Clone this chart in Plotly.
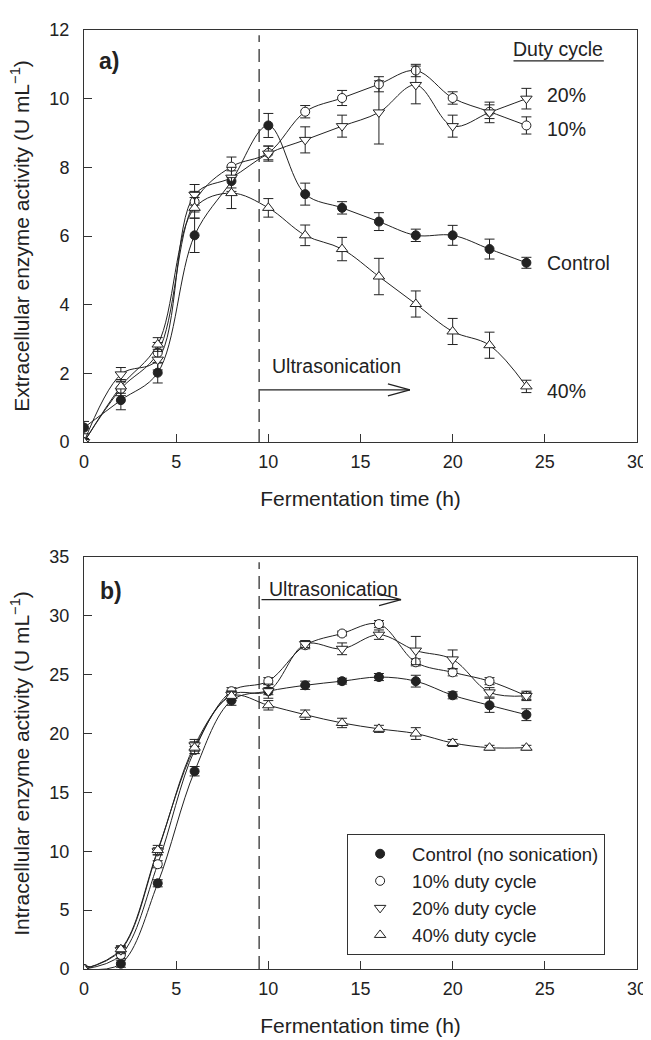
import plotly.graph_objects as go

# ---------------- data ----------------
time_h = [0, 2, 4, 6, 8, 10, 12, 14, 16, 18, 20, 22, 24]

# (a) Extracellular enzyme activity (U/mL)
ext_control = [0.42, 1.22, 2.02, 6.02, 7.6, 9.22, 7.22, 6.82, 6.42, 6.02, 6.02, 5.62, 5.22]
ext_control_err = [0.18, 0.28, 0.3, 0.5, 0.3, 0.35, 0.32, 0.18, 0.26, 0.18, 0.29, 0.29, 0.16]
ext_10 = [0.0, 1.55, 2.6, 7.0, 8.02, 8.42, 9.62, 10.02, 10.42, 10.82, 10.02, 9.62, 9.22]
ext_10_err = [0.1, 0.2, 0.3, 0.3, 0.28, 0.2, 0.18, 0.22, 0.22, 0.18, 0.18, 0.2, 0.25]
ext_20 = [0.0, 1.97, 2.4, 7.2, 7.7, 8.4, 8.8, 9.2, 9.6, 10.4, 9.2, 9.6, 10.0]
ext_20_err = [0.1, 0.2, 0.3, 0.3, 0.3, 0.22, 0.38, 0.32, 0.92, 0.55, 0.32, 0.3, 0.3]
ext_40 = [0.0, 1.62, 2.84, 6.82, 7.25, 6.82, 6.02, 5.62, 4.82, 4.02, 3.22, 2.82, 1.62]
ext_40_err = [0.1, 0.2, 0.2, 0.3, 0.45, 0.27, 0.3, 0.34, 0.53, 0.38, 0.38, 0.38, 0.18]

# (b) Intracellular enzyme activity (U/mL)
int_control = [0.0, 0.45, 7.28, 16.8, 22.8, 23.6, 24.1, 24.45, 24.8, 24.45, 23.25, 22.4, 21.6]
int_control_err = [0.1, 0.3, 0.3, 0.4, 0.4, 0.3, 0.35, 0.25, 0.3, 0.5, 0.3, 0.6, 0.5]
int_10 = [0.0, 1.2, 8.9, 18.6, 23.6, 24.45, 27.5, 28.5, 29.3, 26.05, 25.2, 24.45, 23.2]
int_10_err = [0.1, 0.3, 0.3, 0.3, 0.3, 0.3, 0.3, 0.2, 0.3, 0.3, 0.3, 0.3, 0.3]
int_20 = [0.0, 1.6, 10.0, 19.0, 23.3, 23.6, 27.6, 27.2, 28.4, 27.05, 26.3, 23.5, 23.2]
int_20_err = [0.1, 0.3, 0.3, 0.5, 0.3, 0.6, 0.3, 0.5, 0.4, 1.2, 0.8, 0.4, 0.4]
int_40 = [0.0, 1.68, 10.1, 18.8, 23.2, 22.4, 21.6, 20.9, 20.4, 20.0, 19.2, 18.8, 18.8]
int_40_err = [0.1, 0.3, 0.4, 0.5, 0.4, 0.4, 0.4, 0.4, 0.3, 0.5, 0.3, 0.2, 0.2]

series_names = ["Control (no sonication)", "10% duty cycle", "20% duty cycle", "40% duty cycle"]
side_labels_a = ["Control", "10%", "20%", "40%"]
side_label_y_a = [5.2, 9.12, 10.1, 1.5]
y_titles = ["Extracellular enzyme activity (U mL<sup>−1</sup>)",
            "Intracellular enzyme activity (U mL<sup>−1</sup>)"]
x_title = "Fermentation time (h)"
sonication_start = 9.5

# ---------------- styling ----------------
FONT = "Liberation Sans, Arial, sans-serif"
INK = "#222222"
AX = "#333333"
symbols = ["circle", "circle", "triangle-down", "triangle-up"]
msizes = [9, 9, 10, 10]

fig = go.Figure()


def add_panel(xref, yref, ys, errs, legend):
    # smooth connecting lines
    for y in ys:
        fig.add_trace(go.Scatter(
            x=time_h, y=y, mode="lines", xaxis=xref, yaxis=yref,
            line=dict(color=INK, width=1, shape="spline", smoothing=1.0),
            showlegend=False, hoverinfo="skip"))
    # markers with error bars
    for i, (y, e) in enumerate(zip(ys, errs)):
        filled = i == 0
        fig.add_trace(go.Scatter(
            x=time_h, y=y, mode="markers", xaxis=xref, yaxis=yref,
            name=series_names[i], showlegend=legend,
            marker=dict(symbol=symbols[i], size=msizes[i],
                        color=INK if filled else "white",
                        line=dict(color=INK, width=1)),
            error_y=dict(type="data", array=e, visible=True, color=INK,
                         thickness=1, width=5)))


add_panel("x", "y", [ext_control, ext_10, ext_20, ext_40],
          [ext_control_err, ext_10_err, ext_20_err, ext_40_err], False)
add_panel("x2", "y2", [int_control, int_10, int_20, int_40],
          [int_control_err, int_10_err, int_20_err, int_40_err], True)

axis_common = dict(showline=True, linecolor=AX, linewidth=1, mirror=True,
                   ticks="inside", ticklen=8, tickcolor=AX, tickwidth=1,
                   showgrid=False, zeroline=False,
                   tickfont=dict(family=FONT, size=18, color=INK))
xt = dict(text=x_title, font=dict(size=21, family=FONT), standoff=20)

TOP_DOM = [0.5612, 1]
BOT_DOM = [0, 0.4388]

fig.update_layout(
    width=651, height=1040,
    margin=dict(l=76, r=18, t=13, b=79),
    plot_bgcolor="white", paper_bgcolor="white",
    font=dict(family=FONT, color=INK),
    xaxis=dict(axis_common, domain=[0, 1], range=[0, 30], dtick=5, anchor="y",
               ticklabelstandoff=3, title=xt),
    yaxis=dict(axis_common, domain=TOP_DOM, range=[0, 12], dtick=2, anchor="x",
               ticklabelstandoff=10),
    xaxis2=dict(axis_common, domain=[0, 1], range=[0, 30], dtick=5, anchor="y2",
                ticklabelstandoff=3, title=xt),
    yaxis2=dict(axis_common, domain=BOT_DOM, range=[0, 35], dtick=5, anchor="x2",
                ticklabelstandoff=10),
    legend=dict(x=0.4758, y=0.1435, xanchor="left", yanchor="top",
                bgcolor="white", bordercolor=AX, borderwidth=1,
                font=dict(family=FONT, size=18.5, color=INK),
                itemwidth=54, tracegroupgap=0),
)

# y-axis titles (rotated text placed left of the tick labels)
for title, dom in zip(y_titles, [TOP_DOM, BOT_DOM]):
    fig.add_annotation(x=-0.116, y=(dom[0] + dom[1]) / 2, xref="paper", yref="paper",
                       text=title, textangle=-90, showarrow=False,
                       xanchor="center", yanchor="middle",
                       font=dict(family=FONT, size=21, color=INK))

# ---------------- annotations & guide shapes ----------------
ann_font = dict(family=FONT, size=19.5, color=INK)
# panel letters
fig.add_annotation(x=0.7, y=11.1, xref="x", yref="y", text="<b>a)</b>", showarrow=False,
                   xanchor="left", yanchor="middle", font=dict(family=FONT, size=23, color=INK))
fig.add_annotation(x=0.75, y=32.1, xref="x2", yref="y2", text="<b>b)</b>", showarrow=False,
                   xanchor="left", yanchor="middle", font=dict(family=FONT, size=23, color=INK))
# Duty cycle header with underline
fig.add_annotation(x=25.7, y=11.46, xref="x", yref="y", text="Duty cycle", showarrow=False,
                   xanchor="center", yanchor="middle", font=ann_font)
fig.add_shape(type="line", xref="x", yref="y", x0=23.3, x1=28.2, y0=11.1, y1=11.1,
              line=dict(color=INK, width=1.2))
for lab, yv in zip(side_labels_a, side_label_y_a):
    fig.add_annotation(x=25.0, y=yv, xref="x", yref="y", text=lab, showarrow=False,
                       xanchor="left", yanchor="middle", font=ann_font)

# Ultrasonication labels + arrows + dashed start line
panels = [("x", "y", 11.85, 2.21, 1.52, 9.53, 17.68, 10.1),
          ("x2", "y2", 34.56, 32.3, 31.37, 9.63, 17.2, 9.92)]
for xr, yr, ytop, ytext, yarr, xa0, xa1, xtext in panels:
    fig.add_shape(type="line", xref=xr, yref=yr, x0=sonication_start, x1=sonication_start,
                  y0=0, y1=ytop, line=dict(color=INK, width=1.2, dash="13px,7px"))
    fig.add_annotation(x=xtext, y=ytext, xref=xr, yref=yr, text="Ultrasonication",
                       showarrow=False, xanchor="left", yanchor="middle", font=ann_font)
    fig.add_shape(type="line", xref=xr, yref=yr, x0=xa0, x1=xa1, y0=yarr, y1=yarr,
                  line=dict(color=INK, width=1.2))
    for dy in (6, -6):
        fig.add_shape(type="line", xref=xr, yref=yr, xsizemode="pixel", ysizemode="pixel",
                      xanchor=xa1, yanchor=yarr, x0=-22, x1=0, y0=dy, y1=0,
                      line=dict(color=INK, width=1.2))

fig.write_html("out.html")
